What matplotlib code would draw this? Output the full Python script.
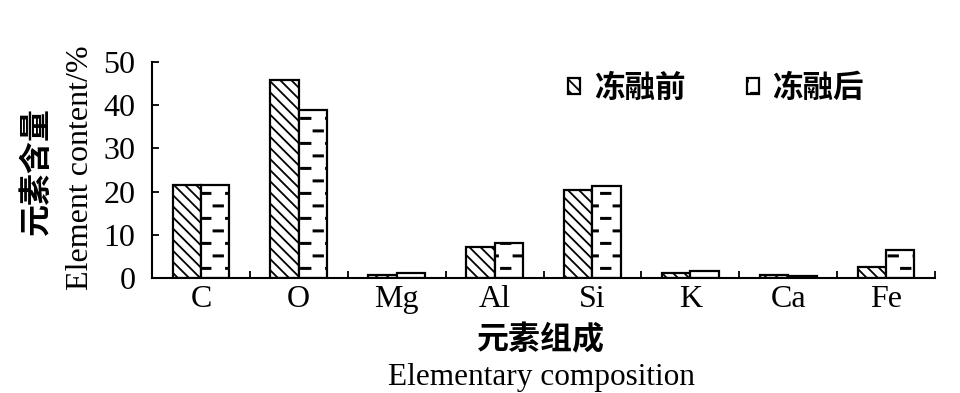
import numpy as np
import matplotlib
matplotlib.use("Agg")
import matplotlib.pyplot as plt
import matplotlib.hatch as mhatch
from matplotlib.path import Path

# ---------------- data ----------------
elements = ["C", "O", "Mg", "Al", "Si", "K", "Ca", "Fe"]
before = [21.6, 45.8, 0.8, 7.1, 20.4, 1.2, 0.6, 2.5]
after = [21.6, 38.9, 1.1, 8.2, 21.3, 1.7, 0.5, 6.5]
series_names = ["冻融前", "冻融后"]
yticks = [0, 10, 20, 30, 40, 50]


# ---------------- custom staggered-dash hatch for '-' ----------------
class BrickDash(mhatch.HatchPatternBase):
    def __init__(self, hatch, density):
        self.reps = 4 if hatch.count('-') else 0
        self.num_vertices = self.reps * self.reps * 2 * 5

    def set_vertices_and_codes(self, vertices, codes):
        cell = 1.0 / self.reps
        dl, dh = 0.095, 0.012
        i = 0
        for r in range(self.reps):
            for c in range(self.reps):
                for (ox, oy) in [(0.01, 0.06), (0.135, 0.185)]:
                    x0 = c * cell + ox
                    y0 = r * cell + oy
                    pts = [(x0, y0), (x0 + dl, y0), (x0 + dl, y0 + dh),
                           (x0, y0 + dh), (x0, y0)]
                    vertices[i:i + 5] = pts
                    codes[i] = Path.MOVETO
                    codes[i + 1:i + 4] = Path.LINETO
                    codes[i + 4] = Path.CLOSEPOLY
                    i += 5


mhatch._hatch_types = [BrickDash if t is mhatch.HorizontalHatch else t
                       for t in mhatch._hatch_types]

plt.rcParams['hatch.linewidth'] = 1.3
serif = ['Liberation Serif', 'DejaVu Serif']
cjk = ['Noto Sans CJK SC', 'DejaVu Sans']
plt.rcParams['font.family'] = serif

fig = plt.figure(figsize=(9.6, 3.93), dpi=100)
ax = fig.add_axes([152 / 960, 1 - 278 / 393, (935 - 152) / 960, (278 - 62) / 393])

x = np.arange(len(elements))
w = 0.29
ax.bar(x - w / 2, before, width=w, facecolor='white', edgecolor='black',
       linewidth=1.6, hatch='\\\\\\', label=series_names[0])
ax.bar(x + w / 2, after, width=w, facecolor='white', edgecolor='black',
       linewidth=1.6, hatch='-', label=series_names[1])

ax.set_xlim(-0.5, len(elements) - 0.5)
ax.set_ylim(0, 50)
ax.set_yticks(yticks)
ax.set_yticklabels([str(v) for v in yticks], fontsize=23)
ax.set_xticks(np.arange(len(elements) + 1) - 0.5)
ax.set_xticklabels([])
ax.set_xticks(x, minor=True)
ax.set_xticklabels(elements, minor=True, fontsize=23)
ax.tick_params(axis='x', which='major', direction='in', length=5, width=1.3)
ax.tick_params(axis='x', which='minor', length=0, pad=5)
ax.tick_params(axis='y', direction='in', length=5, width=1.3, pad=12)
for s in ['top', 'right']:
    ax.spines[s].set_visible(False)
for s in ['left', 'bottom']:
    ax.spines[s].set_linewidth(1.5)

leg = ax.legend(loc='center left', bbox_to_anchor=(568 / 960, 1 - 88 / 393),
                bbox_transform=fig.transFigure, ncol=2, frameon=False,
                prop={'family': cjk, 'size': 22, 'weight': 'bold'},
                handlelength=0.4, handleheight=0.4, handletextpad=0.45,
                columnspacing=2.0, borderpad=0, borderaxespad=0)

# axis titles
fig.text(37 / 960, 1 - 171 / 393, "元素含量", rotation=90, ha='center',
         va='center', family=cjk, fontsize=23, fontweight='bold')
fig.text(80 / 960, 1 - 168 / 393, "Element content/%", rotation=90,
         ha='center', va='center', family=serif, fontsize=23)
fig.text(541 / 960, 1 - 340 / 393, "元素组成", ha='center', va='center',
         family=cjk, fontsize=23, fontweight='bold')
fig.text(542 / 960, 1 - 378 / 393, "Elementary composition", ha='center',
         va='center', family=serif, fontsize=22.5)

fig.savefig("out.png", dpi=100)
